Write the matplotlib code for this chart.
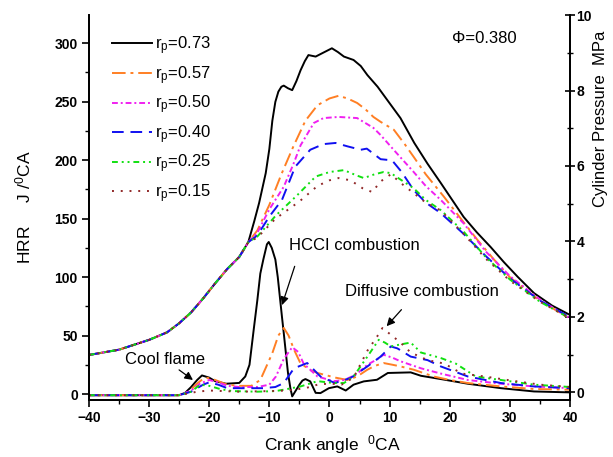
import numpy as np
import matplotlib
matplotlib.use("Agg")
import matplotlib.pyplot as plt
from matplotlib.ticker import MultipleLocator

plt.rcParams['font.family'] = ['Liberation Sans', 'DejaVu Sans']
plt.rcParams['mathtext.fontset'] = 'custom'
plt.rcParams['mathtext.rm'] = 'Liberation Sans'
plt.rcParams['mathtext.it'] = 'Liberation Sans:italic'

# legend labels
rp_labels = ["0.73", "0.57", "0.50", "0.40", "0.25", "0.15"]

# cylinder pressure (MPa), common compression part
p_common_x = [-40, -35, -30, -27, -25, -23, -21, -19, -17, -15, -13.5]
p_common_y = [0.99, 1.13, 1.39, 1.59, 1.83, 2.12, 2.49, 2.89, 3.27, 3.59, 3.98]

# pressure after the curves split
p73_x = [-12.5, -11.7, -10.6, -10, -9.5, -9, -8.5, -8, -7.6, -6.9, -6.2, -5.5, -4.8, -4.1, -3.5,
         -2.3, -1.2, 0.4, 1.4, 2.4, 4, 5.2, 6.3, 8, 9.6, 11.8, 14.1, 16.3, 18.5, 20.4, 22.3,
         24.5, 26.8, 29, 31.3, 34, 37, 40]
p73_y = [4.54, 5.02, 5.81, 6.45, 7.20, 7.70, 7.97, 8.10, 8.13, 8.06, 8.01, 8.25, 8.54, 8.78, 8.94,
         8.90, 8.99, 9.12, 9.02, 8.90, 8.81, 8.65, 8.41, 8.10, 7.75, 7.27, 6.61, 6.06, 5.55,
         5.10, 4.65, 4.24, 3.85, 3.45, 3.06, 2.63, 2.30, 2.05]
p57_x = [-12, -10, -8, -6, -4, -2, 0, 1.5, 3, 4.6, 6, 7.3, 8.5, 10.7, 12.5, 14, 16, 19, 22, 24.6,
         27.4, 30, 35, 40]
p57_y = [4.29, 4.97, 5.78, 6.52, 7.20, 7.61, 7.79, 7.86, 7.79, 7.67, 7.50, 7.30, 7.17, 6.96, 6.58,
         6.24, 5.78, 5.19, 4.57, 4.04, 3.51, 3.05, 2.43, 1.95]
p50_x = [-12, -10, -7.6, -6, -4.8, -2.6, -1, 1.5, 4.6, 7.3, 8.5, 11, 14, 16, 18.5, 22.3, 26, 30,
         35, 40]
p50_y = [4.23, 4.85, 5.45, 6.05, 6.55, 7.14, 7.27, 7.30, 7.27, 7.01, 6.82, 6.37, 5.84, 5.47, 5.10,
         4.48, 3.73, 3.08, 2.46, 1.96]
p40_x = [-12, -10, -7.9, -5.7, -3.2, -1, 1, 3, 5.2, 6.2, 8.5, 10.4, 12, 14, 16, 18.5, 22.3, 26, 30,
         35, 40]
p40_y = [4.16, 4.66, 5.10, 5.98, 6.43, 6.58, 6.61, 6.52, 6.43, 6.46, 6.18, 6.15, 5.84, 5.36, 5.03,
         4.75, 4.20, 3.61, 3.02, 2.43, 1.99]
p25_x = [-12, -8.9, -5.4, -2.3, 0, 2.4, 4.5, 5.7, 7.5, 9, 10.2, 12, 14, 16, 18.5, 22.3, 26, 30, 35, 40]
p25_y = [4.13, 4.69, 5.22, 5.72, 5.84, 5.89, 5.75, 5.68, 5.78, 5.84, 5.81, 5.62, 5.41, 5.10, 4.83,
         4.26, 3.58, 2.99, 2.40, 1.96]
p15_x = [-12, -9, -5, -2, 0, 1.5, 3.5, 5.5, 7.1, 8.5, 10.2, 12, 14, 16, 18.5, 22.3, 26, 30, 35, 40]
p15_y = [4.10, 4.60, 5.06, 5.47, 5.62, 5.68, 5.62, 5.41, 5.31, 5.59, 5.78, 5.53, 5.28, 5.03, 4.82,
         4.20, 3.54, 2.96, 2.40, 1.96]

# heat release rate (J/degCA)
h73_x = [-40, -30, -25, -24, -23, -22, -21.2, -20, -19, -17.2, -15, -14, -13.3, -12.6, -12, -11.5,
         -11, -10.4, -10.1, -9.6, -9, -8.6, -8.2, -7.9, -7.6, -6.9, -6.5, -6.2, -5.6, -5, -4.5,
         -4, -3.2, -2.3, -1.5, -0.1, 1.3, 2.7, 4, 5.7, 7.9, 9.7, 13.5, 15.2, 18.5, 23, 28.5, 34, 40]
h73_y = [-1, -1, -1, 1, 6, 12, 15.9, 14, 11, 8.8, 9.5, 15, 25, 55, 80, 103,
         115, 128, 130, 125, 115, 100, 80.6, 66, 52, 18, 5, -2, 3, 8, 11.5,
         12.8, 10.8, 1, 0.8, 5, 6.5, 3, 8, 10.8, 12.2, 18, 18.5, 15.6, 12.8, 8.8, 5, 2.2, 1.4]
h57_x = [-40, -30, -25, -24, -23, -22, -21, -20.5, -19.5, -18, -17, -15, -13, -11.5, -9.5, -8.5,
         -7.6, -6.8, -5.9, -4.8, -3, -2, 1, 3, 4.6, 6.3, 7.5, 9, 10.5, 11.8, 14, 17.3, 20, 23,
         28.5, 34, 40]
h57_y = [-1, -1, -1, 0, 4, 9, 13, 14, 13, 10, 8, 7, 7, 12, 35, 50,
         56.5, 50, 38, 26, 20, 18, 14, 12, 15, 20.8, 24, 26.5, 25, 23.6, 20.8, 15, 12, 9.4,
         6.5, 4.3, 3.7]
h50_x = [-40, -30, -25, -23, -21.5, -20, -18.5, -17, -15, -12, -10, -8.9, -7.6, -6.2, -5.2, -4.3,
         -2, 0.7, 2.5, 4.5, 6.3, 8, 9, 10.5, 11.8, 15.2, 18.5, 23, 28.5, 34, 40]
h50_y = [-1, -1, -1, 3, 9, 12, 10, 7, 6, 6, 8, 15, 30, 40, 36, 26,
         15, 11, 12, 17, 25, 30, 33.6, 31, 28, 22, 17.5, 12, 8.8, 6.5, 5]
h40_x = [-40, -30, -25, -23, -21, -20, -18.5, -17, -14, -11, -9, -7.6, -5.9, -3.7, -1.5, 0.9, 3.5,
         6.3, 8.5, 10.2, 11.3, 13.5, 16.3, 18.5, 23, 28.5, 34, 40]
h40_y = [-1, -1, -1, 2, 8, 10, 8, 5, 5, 5, 6, 9.4, 22, 26.5, 15, 9.4, 13.7,
         23.6, 32, 40.7, 39, 32, 29, 23.6, 15, 9.4, 6.5, 5]
h25_x = [-40, -30, -25, -23, -21.5, -20, -18, -16, -12, -9, -7.6, -4.8, -2, 0.7, 2.4, 4, 6.3, 8.2,
         9.2, 10.2, 11.8, 13.5, 15.2, 18.5, 21, 24.3, 28.5, 34, 40]
h25_y = [-1, -1, -1, 2, 8, 7, 4, 2.5, 2, 2.5, 3.7, 6.5, 11, 9.4, 9.4, 15, 32, 46.4,
         44, 40.7, 42.4, 44, 35.5, 30.8, 26, 15, 12, 8, 6]
h15_x = [-40, -30, -25, -22, -20, -15, -10, -7, -4, -2, 0, 2, 4, 6.3, 7.9, 8.8, 10.2, 11.8, 13.5,
         16.3, 19.1, 22, 25.8, 29.6, 35, 40]
h15_y = [-1, -1, -1, 2, 3, 2, 2.5, 3, 5, 8, 9, 8, 14, 37, 49, 56.4, 50.7, 44, 35.5,
         29, 26, 17.5, 15, 12, 8, 6]

p_x = [p73_x, p57_x, p50_x, p40_x, p25_x, p15_x]
p_y = [p73_y, p57_y, p50_y, p40_y, p25_y, p15_y]
h_x = [h73_x, h57_x, h50_x, h40_x, h25_x, h15_x]
h_y = [h73_y, h57_y, h50_y, h40_y, h25_y, h15_y]

colors = ['black', '#ff7f24', '#f020f0', '#1010f0', '#10e010', '#902828']
dashes = ['-', (0, (7, 2.5, 1.5, 2.5)), (0, (3, 1.5, 1, 1.5)), (0, (6, 3.5)),
          (0, (3, 2, 1, 2, 1, 2)), (0, (1, 3.5))]

fig = plt.figure(figsize=(6.13, 4.57), dpi=100)
ax = fig.add_axes([0.145, 0.125, 0.785, 0.842])
ax2 = ax.twinx()

for i in range(6):
    px = p_common_x + p_x[i]
    py = p_common_y + p_y[i]
    ax2.plot(px, py, color=colors[i], linestyle=dashes[i], lw=1.4)
    ax.plot(h_x[i], h_y[i], color=colors[i], linestyle=dashes[i], lw=1.4,
            label=r"r$_\mathrm{p}$=" + rp_labels[i])

ax.set_xlim(-40, 40)
ax.set_ylim(-5, 324)
ax2.set_ylim(-0.2, 10.0)

ax.xaxis.set_major_locator(MultipleLocator(10))
ax.xaxis.set_minor_locator(MultipleLocator(5))
ax.yaxis.set_major_locator(MultipleLocator(50))
ax.yaxis.set_minor_locator(MultipleLocator(25))
ax2.yaxis.set_major_locator(MultipleLocator(2))
ax2.yaxis.set_minor_locator(MultipleLocator(1))

for a in (ax, ax2):
    a.spines['top'].set_visible(False)
    for s in a.spines.values():
        s.set_linewidth(1.3)
ax.tick_params(which='major', length=5, width=1.2, labelsize=10, pad=3)
ax.tick_params(which='minor', length=3, width=1.0)
ax2.tick_params(which='major', direction='inout', length=7, width=1.2, labelsize=10, pad=1)
ax2.tick_params(which='minor', direction='inout', length=5, width=1.0)
for lab in ax.get_xticklabels() + ax.get_yticklabels() + ax2.get_yticklabels():
    lab.set_fontweight('bold')

ax.set_xlabel(r"Crank angle  $^0$CA", fontsize=12.5)
ax.xaxis.set_label_coords(0.506, -0.087)
ax.set_ylabel(r"HRR     J /$^0$CA", fontsize=12.5)
ax.yaxis.set_label_coords(-0.115, 0.5)
ax2.set_ylabel("Cylinder Pressure  MPa", fontsize=12)
ax2.yaxis.set_label_coords(1.048, 0.73)

ax.text(20.4, 304, "Φ=0.380", fontsize=12, va='center')
ax.annotate("Cool flame", xy=(-22.7, 12), xytext=(-34, 23), fontsize=12,
            va='bottom', arrowprops=dict(arrowstyle='-|>', color='black', lw=0.9,
                                         shrinkA=0, shrinkB=0))
ax.annotate("HCCI combustion", xy=(-7.9, 76), xytext=(-6.8, 127), fontsize=12,
            va='center', arrowprops=dict(arrowstyle='-|>', color='black', lw=0.9,
                                         shrinkA=8, shrinkB=0, relpos=(0.08, 0)))
ax.annotate("Diffusive combustion", xy=(9.5, 58), xytext=(15.4, 88), fontsize=12,
            ha='center', va='center', arrowprops=dict(arrowstyle='-|>', color='black',
                                                      lw=0.9, shrinkA=8, shrinkB=0,
                                                      relpos=(0.43, 0)))

ax.legend(loc='upper left', bbox_to_anchor=(0.048, 0.95), frameon=False, fontsize=12,
          handlelength=2.4, handletextpad=0.2, labelspacing=0.42, borderpad=0,
          borderaxespad=0)

fig.savefig("out.png", dpi=100)
